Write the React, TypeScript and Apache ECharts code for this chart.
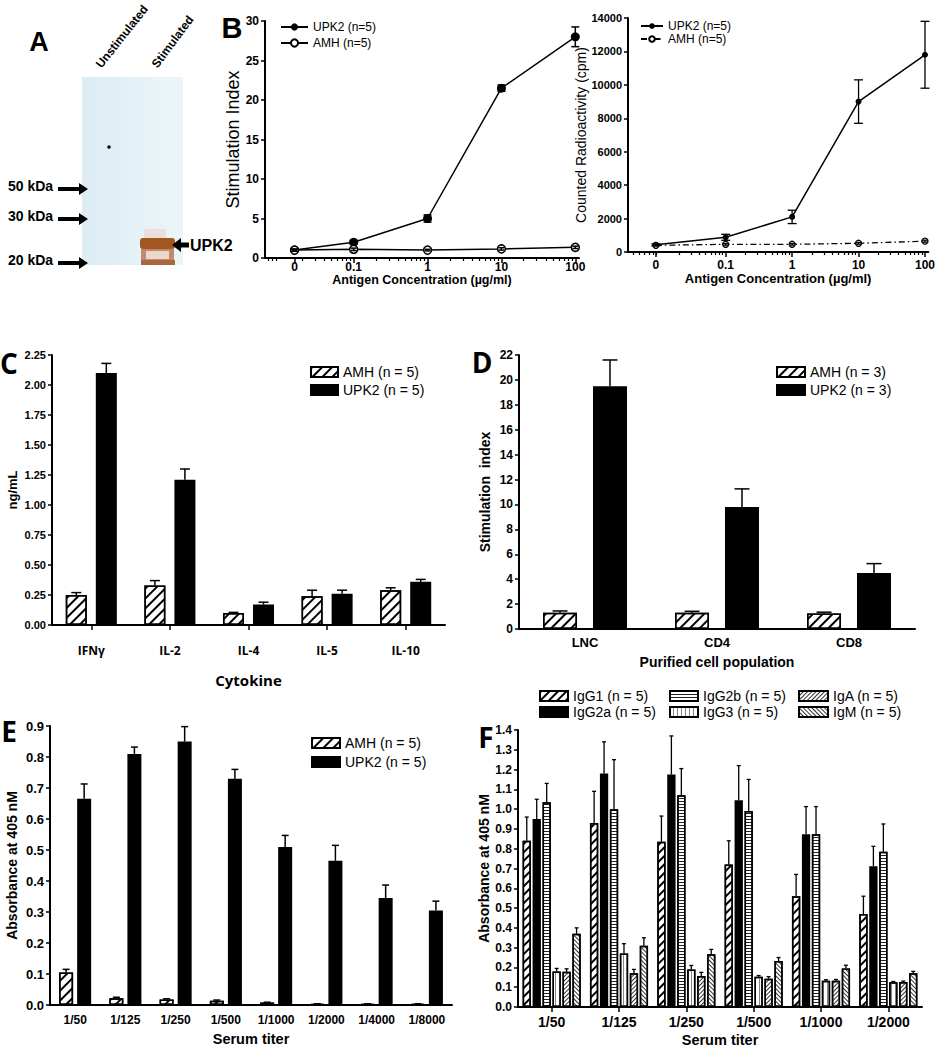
import React, { useEffect, useRef } from "react";
import * as echarts from "echarts";

// ---------- DATA ----------
const concLabels = ["0", "0.1", "1", "10", "100"];
const concValues = [0, 0.1, 1, 10, 100];
const siUPK2 = [1.0, 2.0, 5.0, 21.5, 28.0];
const siUPK2Err = [0.15, 0.25, 0.45, 0.4, 1.25];
const siAMH = [1.0, 1.1, 1.0, 1.15, 1.35];
const siAMHErr = [0.1, 0.15, 0.1, 0.15, 0.15];
const cpmUPK2 = [430, 880, 2100, 9000, 11800];
const cpmUPK2Err = [60, 180, 400, 1300, 2000];
const cpmAMH = [400, 460, 460, 520, 650];
const cpmAMHErr = [40, 50, 50, 50, 60];

const cytokines = ["IFNγ", "IL-2", "IL-4", "IL-5", "IL-10"];
const cytoAMH = [0.25, 0.33, 0.1, 0.24, 0.29];
const cytoAMHErr = [0.02, 0.04, 0.005, 0.05, 0.02];
const cytoUPK2 = [2.1, 1.21, 0.17, 0.26, 0.36];
const cytoUPK2Err = [0.08, 0.09, 0.02, 0.03, 0.02];

const cellPops = ["LNC", "CD4", "CD8"];
const cellAMH = [1.3, 1.3, 1.25];
const cellAMHErr = [0.15, 0.12, 0.1];
const cellUPK2 = [19.5, 9.8, 4.5];
const cellUPK2Err = [2.1, 1.45, 0.75];

const titersE = ["1/50", "1/125", "1/250", "1/500", "1/1000", "1/2000", "1/4000", "1/8000"];
const titerAMH = [0.105, 0.022, 0.018, 0.014, 0.008, 0.004, 0.004, 0.004];
const titerAMHErr = [0.01, 0.003, 0.002, 0.002, 0.001, 0, 0, 0];
const titerUPK2 = [0.665, 0.81, 0.85, 0.73, 0.51, 0.465, 0.345, 0.305];
const titerUPK2Err = [0.048, 0.022, 0.048, 0.03, 0.037, 0.05, 0.042, 0.03];

const titersF = ["1/50", "1/125", "1/250", "1/500", "1/1000", "1/2000"];
const igNames = ["IgG1 (n = 5)", "IgG2a (n = 5)", "IgG2b (n = 5)", "IgG3 (n = 5)", "IgA (n = 5)", "IgM (n = 5)"];
const igG1 = [0.84, 0.93, 0.835, 0.72, 0.56, 0.47];
const igG1Err = [0.12, 0.16, 0.13, 0.12, 0.11, 0.09];
const igG2a = [0.95, 1.18, 1.175, 1.045, 0.873, 0.712];
const igG2aErr = [0.1, 0.16, 0.195, 0.175, 0.14, 0.1];
const igG2b = [1.035, 1.0, 1.07, 0.99, 0.873, 0.785];
const igG2bErr = [0.095, 0.25, 0.135, 0.16, 0.14, 0.14];
const igG3 = [0.18, 0.27, 0.19, 0.153, 0.133, 0.125];
const igG3Err = [0.015, 0.05, 0.02, 0.006, 0.005, 0.004];
const igA = [0.178, 0.17, 0.157, 0.143, 0.133, 0.126];
const igAErr = [0.015, 0.02, 0.018, 0.01, 0.006, 0.005];
const igM = [0.37, 0.31, 0.266, 0.232, 0.195, 0.17];
const igMErr = [0.03, 0.04, 0.025, 0.018, 0.016, 0.01];

// ---------- STYLE ----------
const FONT = "'Liberation Sans', Arial, Helvetica, sans-serif";
const OPEN = "'Open Sans', 'Noto Sans', sans-serif";
const BLACK = "#000";

const logPos = (c: number, zeroPos: number) => (c === 0 ? zeroPos : Math.log10(c));

function hatch(rotation: number, thick: number, gap: number, color = "#000") {
  return {
    symbol: "rect",
    symbolSize: 1,
    dashArrayX: [1, 0],
    dashArrayY: [thick, gap],
    rotation,
    color,
    backgroundColor: "#fff",
  };
}

function errSeries(
  xAxisIndex: number,
  yAxisIndex: number,
  xs: number[],
  vals: number[],
  errs: number[],
  offset: number,
  cap: number,
  both: boolean,
  lw = 1.5
) {
  return {
    type: "custom",
    xAxisIndex,
    yAxisIndex,
    silent: true,
    z: 6,
    data: vals.map((v, i) => [xs[i], v, errs[i]]),
    renderItem: (_params: any, api: any) => {
      const x = api.value(0);
      const v = api.value(1);
      const e = api.value(2);
      const mid = api.coord([x, v]);
      const top = api.coord([x, v + e]);
      const bot = api.coord([x, both ? v - e : v]);
      const cx = mid[0] + offset;
      const st = { stroke: BLACK, lineWidth: lw };
      const ch: any[] = [
        { type: "line", shape: { x1: cx, y1: bot[1], x2: cx, y2: top[1] }, style: st },
        { type: "line", shape: { x1: cx - cap / 2, y1: top[1], x2: cx + cap / 2, y2: top[1] }, style: st },
      ];
      if (both)
        ch.push({ type: "line", shape: { x1: cx - cap / 2, y1: bot[1], x2: cx + cap / 2, y2: bot[1] }, style: st });
      return { type: "group", children: ch };
    },
  };
}

function barS(name: string, xi: number, yi: number, data: number[], w: number, gap: string, color: string, decal?: any) {
  return {
    type: "bar",
    name,
    xAxisIndex: xi,
    yAxisIndex: yi,
    data,
    barWidth: w,
    barGap: gap,
    silent: true,
    z: 2,
    itemStyle: { color, borderColor: BLACK, borderWidth: 1.5, decal },
  };
}

function valY(gridIndex: number, min: number, max: number, interval: number, fmt: (v: number) => string,
  fontSize: number, name: string, nameGap: number, nameStyle: any) {
  return {
    type: "value",
    gridIndex,
    min,
    max,
    interval,
    axisLine: { show: true, onZero: false, lineStyle: { color: BLACK, width: 2 } },
    axisTick: { show: true, length: 4, lineStyle: { color: BLACK, width: 1.5 } },
    splitLine: { show: false },
    axisLabel: { color: BLACK, fontSize, fontWeight: "bold", fontFamily: FONT, margin: 6, formatter: fmt },
    name,
    nameLocation: "middle",
    nameGap,
    nameRotate: 90,
    nameTextStyle: { color: BLACK, ...nameStyle },
  };
}

function catX(gridIndex: number, data: string[], fontSize: number, family: string, margin: number,
  showTick: boolean, name: string, nameGap: number, nameStyle: any) {
  return {
    type: "category",
    gridIndex,
    data,
    axisLine: { show: true, onZero: false, lineStyle: { color: BLACK, width: 2 } },
    axisTick: { show: showTick, alignWithLabel: true, length: 5, lineStyle: { color: BLACK, width: 1.5 } },
    axisLabel: { interval: 0, color: BLACK, fontSize, fontWeight: "bold", fontFamily: family, margin },
    splitLine: { show: false },
    name,
    nameLocation: "middle",
    nameGap,
    nameTextStyle: { color: BLACK, ...nameStyle },
  };
}

function logX(gridIndex: number, min: number, max: number, zeroPos: number, margin: number,
  name: string, nameGap: number, nameSize: number) {
  const majors = concValues.map((c) => logPos(c, zeroPos));
  return {
    type: "value",
    gridIndex,
    min,
    max,
    position: "bottom",
    axisLine: { show: true, onZero: false, lineStyle: { color: BLACK, width: 2 } },
    axisTick: { show: true, customValues: majors, length: 5, lineStyle: { color: BLACK, width: 1.5 } },
    axisLabel: {
      customValues: majors,
      color: BLACK,
      fontSize: 12,
      fontWeight: "bold",
      fontFamily: FONT,
      margin,
      formatter: (v: number) => {
        let best = 0;
        majors.forEach((m, i) => {
          if (Math.abs(m - v) < Math.abs(majors[best] - v)) best = i;
        });
        return concLabels[best];
      },
    },
    splitLine: { show: false },
    name,
    nameLocation: "middle",
    nameGap,
    nameTextStyle: { color: BLACK, fontSize: nameSize, fontWeight: "bold", fontFamily: FONT },
  };
}

function logMinorX(gridIndex: number, min: number, max: number) {
  const minors: number[] = [];
  for (let d = -3; d <= 1; d++)
    for (let k = 2; k <= 9; k++) {
      const p = d + Math.log10(k);
      if (p > min && p < max) minors.push(p);
    }
  return {
    type: "value",
    gridIndex,
    min,
    max,
    position: "bottom",
    axisLine: { show: false, onZero: false },
    axisTick: { show: true, customValues: minors, length: 3, lineStyle: { color: BLACK, width: 1.2 } },
    axisLabel: { show: false },
    splitLine: { show: false },
  };
}

function arrowRight(x0: number, x1: number, y: number) {
  const hl = 9, hw = 6, sw = 2;
  return {
    type: "polygon",
    shape: { points: [[x0, y - sw], [x1 - hl, y - sw], [x1 - hl, y - hw], [x1, y], [x1 - hl, y + hw], [x1 - hl, y + sw], [x0, y + sw]] },
    style: { fill: BLACK },
  };
}
function arrowLeft(x0: number, x1: number, y: number) {
  const hl = 9, hw = 7, sw = 2.5;
  return {
    type: "polygon",
    shape: { points: [[x0, y], [x0 + hl, y - hw], [x0 + hl, y - sw], [x1, y - sw], [x1, y + sw], [x0 + hl, y + sw], [x0 + hl, y + hw]] },
    style: { fill: BLACK },
  };
}
function txt(text: string, x: number, y: number, size: number, weight: string, family: string,
  align = "left", vAlign = "middle", rotation = 0) {
  return {
    type: "text",
    x,
    y,
    rotation,
    style: { text, fill: BLACK, fontSize: size, fontWeight: weight, fontFamily: family, align, verticalAlign: vAlign },
  };
}

function buildOption() {
  const ZL = -1.8; // position of the "0" concentration on left B panel
  const ZR = -2.05; // on right B panel
  const xsL = concValues.map((c) => logPos(c, ZL));
  const xsR = concValues.map((c) => logPos(c, ZR));
  const idx = (arr: any[]) => arr.map((_, i) => i);

  const legendText = { color: BLACK, fontFamily: FONT, fontSize: 14 };

  // bar layouts
  const cW = 21, cG = 0.43;
  const dW = 34, dG = 0.47;
  const eW = 14, eG = 0.29;
  const fW = 8.3, fG = 0.2;
  const off = (k: number, n: number, w: number, g: number) => (k - (n - 1) / 2) * w * (1 + g);

  const SLASH = -Math.PI / 4;
  const BACK = Math.PI / 4;

  const fData = [igG1, igG2a, igG2b, igG3, igA, igM];
  const fErr = [igG1Err, igG2aErr, igG2bErr, igG3Err, igAErr, igMErr];
  const fColors = ["#fff", "#000", "#fff", "#fff", "#fff", "#fff"];
  const fDecals = [
    hatch(SLASH, 2, 4),
    undefined,
    hatch(0, 1, 1.6, "#222"),
    hatch(Math.PI / 2, 1, 2.5, "#888"),
    hatch(SLASH, 1, 2, "#333"),
    hatch(BACK, 1, 2, "#333"),
  ];

  const series: any[] = [
    // B left
    {
      type: "line", name: "UPK2 (n=5)", xAxisIndex: 0, yAxisIndex: 0, z: 4, silent: true,
      data: concValues.map((_, i) => [xsL[i], siUPK2[i]]),
      symbol: "circle", symbolSize: 9,
      lineStyle: { color: BLACK, width: 1.5 }, itemStyle: { color: BLACK },
    },
    {
      type: "line", name: "AMH (n=5)", xAxisIndex: 0, yAxisIndex: 0, z: 4, silent: true,
      data: concValues.map((_, i) => [xsL[i], siAMH[i]]),
      symbol: "circle", symbolSize: 8,
      lineStyle: { color: BLACK, width: 1.5 }, itemStyle: { color: "#fff", borderColor: BLACK, borderWidth: 1.5 },
    },
    errSeries(0, 0, xsL, siUPK2, siUPK2Err, 0, 8, true),
    errSeries(0, 0, xsL, siAMH, siAMHErr, 0, 6, true),
    // B right
    {
      type: "line", name: "UPK2 (n=5) ", xAxisIndex: 2, yAxisIndex: 1, z: 4, silent: true,
      data: concValues.map((_, i) => [xsR[i], cpmUPK2[i]]),
      symbol: "circle", symbolSize: 6,
      lineStyle: { color: BLACK, width: 1.5 }, itemStyle: { color: BLACK },
    },
    {
      type: "line", name: "AMH (n=5) ", xAxisIndex: 2, yAxisIndex: 1, z: 4, silent: true,
      data: concValues.map((_, i) => [xsR[i], cpmAMH[i]]),
      symbol: "circle", symbolSize: 6,
      lineStyle: { color: BLACK, width: 1.3, type: [6, 3, 1.5, 3] },
      itemStyle: { color: "#fff", borderColor: BLACK, borderWidth: 1.3 },
    },
    errSeries(2, 1, xsR, cpmUPK2, cpmUPK2Err, 0, 9, true, 1.3),
    errSeries(2, 1, xsR, cpmAMH, cpmAMHErr, 0, 6, true, 1.3),
    // C
    barS("AMH (n = 5)", 4, 2, cytoAMH, cW, "43%", "#fff", hatch(SLASH, 2, 5)),
    barS("UPK2 (n = 5)", 4, 2, cytoUPK2, cW, "43%", "#000"),
    errSeries(4, 2, idx(cytokines), cytoAMH, cytoAMHErr, off(0, 2, cW, cG), 10, false),
    errSeries(4, 2, idx(cytokines), cytoUPK2, cytoUPK2Err, off(1, 2, cW, cG), 10, false),
    // D
    barS("AMH (n = 3)", 5, 3, cellAMH, dW, "47%", "#fff", hatch(SLASH, 2, 5)),
    barS("UPK2 (n = 3)", 5, 3, cellUPK2, dW, "47%", "#000"),
    errSeries(5, 3, idx(cellPops), cellAMH, cellAMHErr, off(0, 2, dW, dG), 15, false),
    errSeries(5, 3, idx(cellPops), cellUPK2, cellUPK2Err, off(1, 2, dW, dG), 15, false),
    // E
    barS("AMH (n = 5)", 6, 4, titerAMH, eW, "29%", "#fff", hatch(SLASH, 2, 5)),
    barS("UPK2 (n = 5)", 6, 4, titerUPK2, eW, "29%", "#000"),
    errSeries(6, 4, idx(titersE), titerAMH, titerAMHErr, off(0, 2, eW, eG), 7, false),
    errSeries(6, 4, idx(titersE), titerUPK2, titerUPK2Err, off(1, 2, eW, eG), 7, false),
  ];
  // F
  igNames.forEach((nm, k) => {
    series.push(barS(nm, 7, 5, fData[k], fW, "20%", fColors[k], fDecals[k]));
  });
  igNames.forEach((_, k) => {
    series.push(errSeries(7, 5, idx(titersF), fData[k], fErr[k], off(k, 6, fW, fG), 4, false, 1.3));
  });

  const graphicEls: any[] = [
    // Panel A blot
    {
      type: "rect", shape: { x: 82, y: 77, width: 101, height: 188 },
      style: {
        fill: { type: "linear", x: 0, y: 0, x2: 1, y2: 0, colorStops: [{ offset: 0, color: "#dcecf3" }, { offset: 1, color: "#ecf6f9" }] },
      },
    },
    { type: "circle", shape: { cx: 109, cy: 147, r: 1.8 }, style: { fill: "#111" } },
    { type: "rect", shape: { x: 144, y: 229, width: 22, height: 10 }, style: { fill: "#eadfdb" } },
    { type: "rect", shape: { x: 140, y: 238, width: 35, height: 11, r: 3 }, style: { fill: "#a3561f" } },
    { type: "rect", shape: { x: 141, y: 249, width: 33, height: 16 }, style: { fill: "#c28a6c" } },
    { type: "rect", shape: { x: 146, y: 251, width: 23, height: 8 }, style: { fill: "#ead8cf" } },
    { type: "rect", shape: { x: 141, y: 260, width: 34, height: 5 }, style: { fill: "#a8673f" } },
    txt("Unstimulated", 103, 70, 12, "bold", FONT, "left", "bottom", 0.9),
    txt("Stimulated", 159, 70, 12, "bold", FONT, "left", "bottom", 0.93),
    txt("50 kDa", 8, 186, 14, "bold", FONT),
    arrowRight(58, 88, 189),
    txt("30 kDa", 8, 216, 14, "bold", FONT),
    arrowRight(58, 88, 219),
    txt("20 kDa", 8, 260, 14, "bold", FONT),
    arrowRight(58, 88, 263),
    arrowLeft(172, 189, 245),
    txt("UPK2", 190, 245, 16, "bold", "'Liberation Sans Narrow', 'Liberation Sans', Arial, sans-serif"),
    // panel letters
    txt("A", 39, 42, 27, "bold", FONT, "center"),
    txt("B", 232, 28, 29, "bold", FONT, "center"),
    txt("C", 9, 363, 28, "bold", OPEN, "center"),
    txt("D", 482, 362, 28, "bold", OPEN, "center"),
    txt("E", 9, 731, 28, "bold", OPEN, "center"),
    txt("F", 486, 737, 28, "bold", OPEN, "center"),
  ];

  const BL_MIN = -2.2, BL_MAX = 2.05, BR_MIN = -2.47, BR_MAX = 2.05;

  return {
    animation: false,
    backgroundColor: "#fff",
    grid: [
      { left: 265, top: 21, width: 314, height: 237 },
      { left: 628, top: 18, width: 302, height: 234 },
      { left: 52, top: 355, width: 393, height: 270 },
      { left: 519, top: 355, width: 396, height: 274 },
      { left: 50, top: 726, width: 402, height: 279 },
      { left: 518, top: 730, width: 404, height: 277 },
    ],
    xAxis: [
      logX(0, BL_MIN, BL_MAX, ZL, 3, "Antigen Concentration (µg/ml)", 9, 12.5),
      logMinorX(0, BL_MIN, BL_MAX),
      logX(1, BR_MIN, BR_MAX, ZR, 7, "Antigen Concentration (µg/ml)", 18, 13),
      logMinorX(1, BR_MIN, BR_MAX),
      catX(2, cytokines, 12, OPEN, 19, true, "Cytokine", 47, { fontSize: 15, fontWeight: "bold", fontFamily: OPEN }),
      catX(3, cellPops, 13, FONT, 7, false, "Purified cell population", 26, { fontSize: 14, fontWeight: "bold", fontFamily: FONT }),
      catX(4, titersE, 12, FONT, 9, false, "Serum titer", 26, { fontSize: 14.5, fontWeight: "bold", fontFamily: FONT }),
      catX(5, titersF, 14, FONT, 8, true, "Serum titer", 25, { fontSize: 14.5, fontWeight: "bold", fontFamily: FONT }),
    ],
    yAxis: [
      valY(0, 0, 30, 5, (v) => String(v), 12, "Stimulation Index", 18, { fontSize: 18, fontWeight: "normal", fontFamily: FONT }),
      valY(1, 0, 14000, 2000, (v) => String(v), 11, "Counted Radioactivity (cpm)", 35, { fontSize: 14, fontWeight: "normal", fontFamily: FONT }),
      valY(2, 0, 2.25, 0.25, (v) => v.toFixed(2), 11, "ng/mL", 33, { fontSize: 13, fontWeight: "bold", fontFamily: FONT }),
      valY(3, 0, 22, 2, (v) => String(v), 12, "Stimulation  index", 27, { fontSize: 14, fontWeight: "bold", fontFamily: FONT }),
      valY(4, 0, 0.9, 0.1, (v) => v.toFixed(1), 13, "Absorbance at 405 nM", 31, { fontSize: 14, fontWeight: "bold", fontFamily: FONT }),
      valY(5, 0, 1.4, 0.1, (v) => v.toFixed(1), 12, "Absorbance at 405 nM", 26, { fontSize: 14, fontWeight: "bold", fontFamily: FONT }),
    ],
    legend: [
      {
        left: 280, top: 21, orient: "vertical", padding: 0, itemWidth: 27, itemHeight: 9, itemGap: 4,
        selectedMode: false, data: ["UPK2 (n=5)", "AMH (n=5)"],
        textStyle: { color: BLACK, fontFamily: FONT, fontSize: 12 },
      },
      {
        left: 640, top: 20, orient: "vertical", padding: 0, itemWidth: 22, itemHeight: 7, itemGap: 1,
        selectedMode: false, data: ["UPK2 (n=5) ", "AMH (n=5) "], formatter: (n: string) => n.trim(),
        textStyle: { color: BLACK, fontFamily: FONT, fontSize: 12 },
      },
      {
        left: 310, top: 365, orient: "vertical", padding: 0, itemWidth: 27, itemHeight: 10, itemGap: 4,
        icon: "rect", selectedMode: false, data: ["AMH (n = 5)", "UPK2 (n = 5)"], textStyle: legendText,
      },
      {
        left: 776, top: 365, orient: "vertical", padding: 0, itemWidth: 28, itemHeight: 10, itemGap: 4,
        icon: "rect", selectedMode: false, data: ["AMH (n = 3)", "UPK2 (n = 3)"], textStyle: legendText,
      },
      {
        left: 311, top: 736, orient: "vertical", padding: 0, itemWidth: 28, itemHeight: 10, itemGap: 5,
        icon: "rect", selectedMode: false, data: ["AMH (n = 5)", "UPK2 (n = 5)"], textStyle: legendText,
      },
      {
        left: 539, top: 689, orient: "vertical", padding: 0, itemWidth: 28, itemHeight: 10, itemGap: 2,
        icon: "rect", selectedMode: false, data: [igNames[0], igNames[1]], textStyle: legendText,
      },
      {
        left: 669, top: 689, orient: "vertical", padding: 0, itemWidth: 28, itemHeight: 10, itemGap: 2,
        icon: "rect", selectedMode: false, data: [igNames[2], igNames[3]], textStyle: legendText,
      },
      {
        left: 798, top: 689, orient: "vertical", padding: 0, itemWidth: 29, itemHeight: 10, itemGap: 2,
        icon: "rect", selectedMode: false, data: [igNames[4], igNames[5]], textStyle: legendText,
      },
    ],
    series,
    graphic: { elements: graphicEls },
  };
}

export default function App() {
  const ref = useRef<HTMLDivElement>(null);
  useEffect(() => {
    document.body.style.margin = "0";
    const chart = echarts.init(ref.current as HTMLDivElement, null, { renderer: "svg" });
    chart.setOption(buildOption() as any);
    return () => chart.dispose();
  }, []);
  return <div ref={ref} style={{ width: 938, height: 1050 }} />;
}
